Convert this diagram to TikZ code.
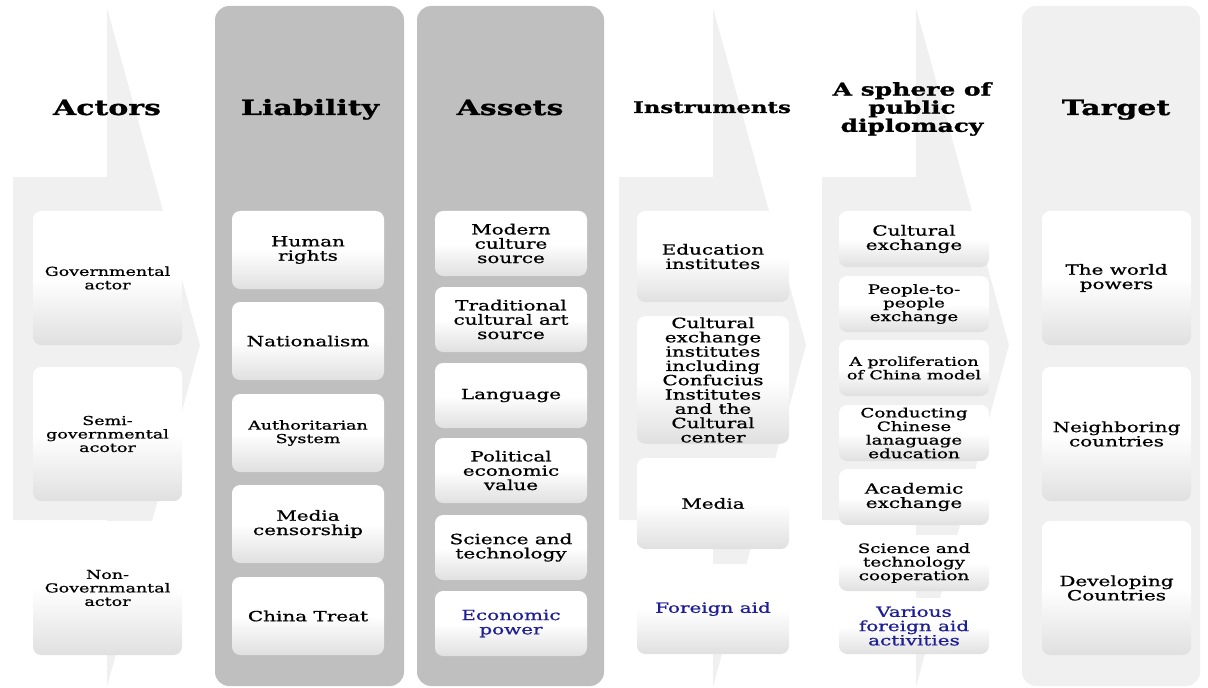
\documentclass[tikz,border=0pt]{standalone}
\usepackage{fontspec}
\setmainfont{DejaVu Serif}[FakeStretch=1.42]
\newfontfamily\cellfam{DejaVu Serif}[FakeStretch=1.42, FakeBold=0.9]
\newfontfamily\headfam{DejaVu Serif}[FakeStretch=1.42, BoldFeatures={FakeBold=1.2}]
\definecolor{arrowgray}{RGB}{240,240,240}
\definecolor{colgray}{RGB}{191,191,191}
\definecolor{cellshade}{RGB}{224,224,224}
\definecolor{aidblue}{RGB}{30,30,150}
\tikzset{
  cell/.style={rounded corners=7pt, top color=white, bottom color=cellshade, middle color=white,
    align=center, inner sep=1pt, font={\cellfam\fontsize{12}{12.2}\selectfont}},
  norm/.style={},
  mid/.style={font={\cellfam\fontsize{11}{11.6}\selectfont}},
  small/.style={font={\cellfam\fontsize{10.5}{11.5}\selectfont}},
  aid/.style={text=aidblue},
  head/.style={anchor=base, font={\headfam\fontsize{18}{18}\selectfont\bfseries}},
}
\begin{document}
\begin{tikzpicture}[x=0.03cm, y=0.03cm]
  \useasboundingbox (0,0) rectangle (1208,687);

  \foreach \ax in {107,713,916}
    \fill[arrowgray] (\ax-94,510) -- (\ax,510) -- (\ax,679) -- (\ax+93,342) -- (\ax,0) -- (\ax,167) -- (\ax-94,167) -- cycle;
  \fill[colgray, rounded corners=12pt] (215,1) rectangle (404,681);
  \fill[colgray, rounded corners=12pt] (417,1) rectangle (604,681);
  \fill[arrowgray, rounded corners=12pt] (1022,1) rectangle (1200,681);

  \node[head] (actors) at (107,572) {Actors};
  \node[head] (liability) at (310,572) {Liability};
  \node[head] (assets) at (510,572) {Assets};
  \node[head, font={\headfam\fontsize{13.7}{14}\selectfont\bfseries}] (instruments) at (712,574) {Instruments};
  \node[head, anchor=center, align=center, font={\headfam\fontsize{15}{15.5}\selectfont\bfseries}] (sphere) at (912,578) {A sphere of\\public\\diplomacy};
  \node[head] (target) at (1116,572) {Target};

  \foreach \yt/\st/\txt [count=\i] in {211/small/{Governmental\\actor}, 367/small/{Semi-\\governmental\\acotor}, 521/small/{Non-\\Governmantal\\actor}}
    \node[cell, \st, minimum width={149*0.03cm}, minimum height={134*0.03cm}] (act-\i) at (107.5,{687-\yt-67}) {\txt};

  \foreach \yt/\st/\txt [count=\i] in {211/norm/{Human\\rights}, 302/norm/Nationalism, 394/small/{Authoritarian\\System}, 485/norm/{Media\\censorship}, 577/norm/{China Treat}}
    \node[cell, \st, minimum width={152*0.03cm}, minimum height={78*0.03cm}] (lia-\i) at (308,{687-\yt-39}) {\txt};

  \foreach \yt/\st/\txt [count=\i] in {211/norm/{Modern\\culture\\source}, 287/norm/{Traditional\\cultural art\\source}, 363/norm/Language, 438/norm/{Political\\economic\\value}, 515/norm/{Science and\\technology}, 591/aid/{Economic\\power}}
    \node[cell, \st, minimum width={152*0.03cm}, minimum height={65*0.03cm}] (ast-\i) at (511,{687-\yt-32.5}) {\txt};

  \foreach \yt/\hh/\st/\txt [count=\i] in {211/91/norm/{Education\\institutes}, 317/126/norm/{Cultural\\exchange\\institutes\\including\\Confucius\\Institutes\\and the\\Cultural\\center}, 458/91/norm/Media, 564/90/aid/{Foreign aid}}
    \node[cell, \st, minimum width={152*0.03cm}, minimum height={\hh*0.03cm}] (ins-\i) at (713,{687-\yt-\hh/2}) {\txt};

  \foreach \yt/\st/\txt [count=\i] in {211/norm/{Cultural\\exchange}, 276/mid/{People-to-\\people\\exchange}, 340/small/{A proliferation\\of China model}, 405/mid/{Conducting\\Chinese\\lanaguage\\education}, 469/norm/{Academic\\exchange}, 535/mid/{Science and\\technology\\cooperation}, 598/aid/{Various\\foreign aid\\activities}}
    \node[cell, \st, minimum width={150*0.03cm}, minimum height={56*0.03cm}] (sph-\i) at (914,{687-\yt-28}) {\txt};

  \foreach \yt/\st/\txt [count=\i] in {211/norm/{The world\\powers}, 367/norm/{Neighboring\\countries}, 521/norm/{Developing\\Countries}}
    \node[cell, \st, minimum width={149*0.03cm}, minimum height={134*0.03cm}] (tgt-\i) at (1116.5,{687-\yt-67}) {\txt};
\end{tikzpicture}
\end{document}
